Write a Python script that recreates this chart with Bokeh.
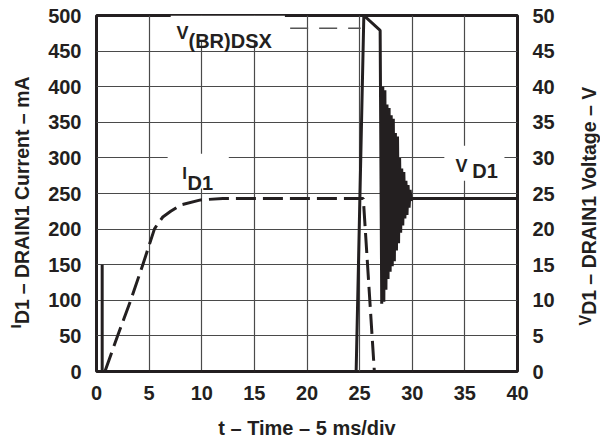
import math
from bokeh.plotting import figure
from bokeh.models import Range1d, LinearAxis, FixedTicker, Label, BoxAnnotation
from bokeh.layouts import row
from bokeh.embed import file_html
from bokeh.resources import INLINE

# ---------------- data ----------------
x_ticks = [0, 5, 10, 15, 20, 25, 30, 35, 40]
ma_ticks = [0, 50, 100, 150, 200, 250, 300, 350, 400, 450, 500]
v_ticks = [0, 5, 10, 15, 20, 25, 30, 35, 40, 45, 50]

# drain current I_D1 (mA), dashed
cur_t = [0.8, 2.0, 3.25, 4.4, 5.5, 5.8, 6.3, 7.05, 8.0, 9.9, 12.0, 25.35, 26.4, 40.0]
cur_ma = [0, 50, 100, 150, 200, 207, 217, 225, 234, 241, 243, 243, 0, 0]

# drain voltage V_D1 (V), solid: spike, avalanche, ringing, steady
volt_t_pre = [0.54, 0.54, 24.67, 25.4, 26.95]
volt_v_pre = [15, 0, 0, 50, 47.9]
ring_t = [27.1, 27.2, 27.3, 27.4, 27.5, 27.6, 27.7, 27.8, 27.9, 28.0,
          28.1, 28.2, 28.3, 28.4, 28.5, 28.6, 28.7, 28.8, 28.9, 29.0,
          29.1, 29.2, 29.3, 29.4, 29.5, 29.6, 29.7, 29.8, 29.9]
ring_v = [9.5, 40.0, 9.8, 39.5, 11.5, 37.5, 13.0, 37.0, 14.0, 36.0,
          14.8, 35.5, 15.5, 33.5, 17.0, 33.0, 18.0, 30.0, 19.5, 28.5,
          20.5, 28.0, 21.5, 26.8, 22.0, 26.2, 23.0, 25.5, 24.0]
volt_t_post = [30.0, 40.0]
volt_v_post = [24.3, 24.3]

# V(BR)DSX leader line (V)
bv_t = [18.4, 25.1]
bv_v = [48.2, 48.2]

volt_t = volt_t_pre + ring_t + volt_t_post
volt_v = volt_v_pre + ring_v + volt_v_post

# ---------------- styling ----------------
INK = "#231f20"
FONT = "Liberation Sans"
H = 441
TOP, BOT = 15, 70

p = figure(width=525, height=H, output_backend="svg", toolbar_location=None,
           x_range=Range1d(0, 40), y_range=Range1d(0, 500),
           min_border_left=56, min_border_right=48, min_border_top=TOP, min_border_bottom=BOT)
p.extra_y_ranges = {"v": Range1d(0, 50)}
p.background_fill_color = "white"
p.border_fill_color = "white"
p.outline_line_color = INK
p.outline_line_width = 3

def style_axis(ax, standoff):
    ax.axis_line_color = None
    ax.major_tick_line_color = None
    ax.minor_tick_line_color = None
    ax.major_label_text_font = FONT
    ax.major_label_text_font_style = "bold"
    ax.major_label_text_font_size = "20px"
    ax.major_label_text_color = INK
    ax.major_label_standoff = standoff

p.xaxis.ticker = FixedTicker(ticks=x_ticks)
p.yaxis.ticker = FixedTicker(ticks=ma_ticks)
style_axis(p.xaxis[0], 8)
style_axis(p.yaxis[0], 9)
p.xaxis.axis_label = "t \u2013 Time \u2013 5 ms/div"
p.xaxis.axis_label_text_font = FONT
p.xaxis.axis_label_text_font_style = "bold"
p.xaxis.axis_label_text_font_size = "20px"
p.xaxis.axis_label_text_color = INK
p.xaxis.axis_label_standoff = 14

rax = LinearAxis(y_range_name="v", ticker=FixedTicker(ticks=v_ticks))
style_axis(rax, 9)
p.add_layout(rax, "right")

for g in (p.xgrid[0], p.ygrid[0]):
    g.grid_line_color = "#4a4a4a"
    g.grid_line_width = 1.2

# white boxes behind the in-plot labels (cover the grid)
for l, r, b, t in [(7.05, 17.9, 465, 500), (6.76, 12.57, 257, 306), (33.05, 38.76, 268, 317)]:
    box = BoxAnnotation(left=l, right=r, bottom=b, top=t, fill_color="white",
                        fill_alpha=1.0, line_color=None, level="underlay")
    p.add_layout(box)

# curves
p.line(volt_t, volt_v, y_range_name="v", line_color=INK, line_width=3)
p.line(cur_t, cur_ma, line_color=INK, line_width=3, line_dash="20 7")
p.line(bv_t, bv_v, y_range_name="v", line_color="#555555", line_width=1.5, line_dash="18 11")

def lab(fig, x, y, text, size, angle=0.0, align="left", baseline="alphabetic"):
    fig.add_layout(Label(x=x, y=y, text=text, angle=angle, text_align=align,
                         text_baseline=baseline, text_font=FONT, text_font_style="bold",
                         text_font_size=size, text_color=INK))

# in-plot labels
lab(p, 7.6, 476, "V", "18px")
lab(p, 8.74, 463.5, "(BR)DSX", "20px")
lab(p, 8.14, 278, "I", "17px")
lab(p, 8.65, 264.5, "D1", "20px")
lab(p, 34.1, 288, "V", "18px")
lab(p, 35.7, 282.3, "D1", "20px")

# side strips holding the rotated axis titles (pixel x units, mA y units)
def strip(w):
    s = figure(width=w, height=H, output_backend="svg", toolbar_location=None,
               x_range=Range1d(0, w), y_range=Range1d(0, 500),
               x_axis_type=None, y_axis_type=None,
               min_border_left=0, min_border_right=0, min_border_top=TOP, min_border_bottom=BOT)
    s.outline_line_color = None
    s.background_fill_color = "white"
    s.border_fill_color = "white"
    return s

half = math.pi / 2
ls = strip(40)
lab(ls, 14.5, 60.4, "I", "15px", angle=half)
lab(ls, 21.5, 66.6, "D1", "19.5px", angle=half)
lab(ls, 21.5, 108.5, "\u2013 DRAIN1 Current \u2013 mA", "19.5px", angle=half)

rs = strip(35)
lab(rs, 20.0, 64.6, "V", "16px", angle=half)
lab(rs, 23.5, 79.6, "D1", "19.5px", angle=half)
lab(rs, 23.5, 122.0, "\u2013 DRAIN1 Voltage \u2013 V", "19.5px", angle=half)

layout = row(ls, p, rs)
open("out.html", "w").write(file_html(layout, INLINE))
